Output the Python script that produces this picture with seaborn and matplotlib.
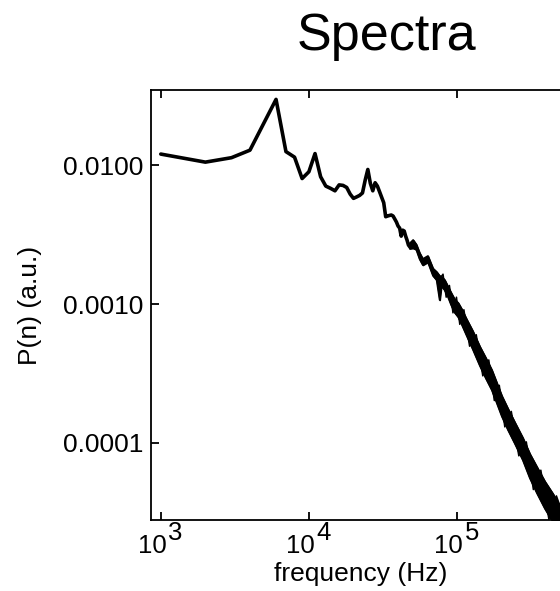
import matplotlib
matplotlib.use("Agg")
import matplotlib.pyplot as plt
import seaborn as sns
import numpy as np
import pandas as pd
from matplotlib.ticker import FixedLocator, FixedFormatter, NullLocator

# ---- data ----
freq_line = [1000, 2000, 3000, 4000, 6000, 7000, 8000, 9000, 10000, 11000,
             12000, 13000, 14000, 15000, 16000, 17000, 18000, 19000, 20000,
             21000, 22000, 23000, 24000, 25000, 26000, 27000, 28000, 29000,
             30000, 31000, 32000, 33000, 34000, 35000, 36000, 37000, 38000,
             39000, 40000, 41000, 42000, 43000, 44000, 45000, 46000, 47000,
             48000]
p_line = [0.0120, 0.0105, 0.0113, 0.0128, 0.0297, 0.0125, 0.0114, 0.0080,
          0.00895, 0.0121, 0.00824, 0.00706, 0.0068, 0.00653, 0.0072,
          0.00714, 0.0069, 0.00618, 0.00576, 0.0059, 0.00605, 0.0063,
          0.0078, 0.0093, 0.00738, 0.00653, 0.00746, 0.00706, 0.00643,
          0.00586, 0.00536, 0.00425, 0.0043, 0.00434, 0.00437, 0.0043,
          0.00409, 0.00389, 0.00364, 0.00352, 0.00308, 0.0034, 0.00335,
          0.00308, 0.00288, 0.00266, 0.00258]

# noisy high-frequency part: upper / lower envelope of the dense band
band_freq = [47900, 50540, 53100, 55920, 58800, 63600, 68800, 72900, 76400,
             78400, 82570, 86500, 91370, 96500, 101900, 107000, 115800,
             127700, 142500, 156400, 171700, 185700, 200600, 220300, 245700,
             278200, 310200, 346100, 391800, 444300, 495500, 790000, 1300000]
band_hi = [0.002725, 0.002887, 0.002680, 0.002328, 0.002108, 0.002215,
           0.001800, 0.001699, 0.001590, 0.001577, 0.001488, 0.001348,
           0.001200, 0.001077, 0.001017, 0.000928, 0.000780, 0.000639,
           0.000494, 0.000409, 0.000335, 0.000270, 0.000218, 0.000177,
           0.0001404, 0.0001086, 0.0000834, 0.0000672, 0.0000528,
           0.0000430, 0.0000352, 0.0000182, 0.00000935]
band_lo = [0.002507, 0.002528, 0.002466, 0.002108, 0.001909, 0.002005,
           0.001603, 0.001488, 0.001069, 0.001358, 0.001260, 0.001142,
           0.000984, 0.000869, 0.000807, 0.000724, 0.000598, 0.000474,
           0.000361, 0.000293, 0.000241, 0.000194, 0.000156, 0.000125,
           0.0000992, 0.0000754, 0.0000560, 0.0000437, 0.0000338,
           0.0000270, 0.0000221, 0.0000114, 0.00000589]

# spikes sticking out of the band edges (jagged texture)
spike_freq = [78400, 80460, 84510, 88900, 93900, 99160, 104400, 111300,
              121600, 134900, 149300, 163900, 178600, 193000, 210200,
              232600, 261400, 293800, 327700, 368200, 417200, 469200,
              495500]
spike_p = [0.001577, 0.00164, 0.00112, 0.00136, 0.000864, 0.00112,
           0.000714, 0.00091, 0.000497, 0.000601, 0.000304, 0.000396,
           0.000202, 0.00026, 0.0001305, 0.0001687, 0.0000808, 0.0001018,
           0.0000462, 0.0000637, 0.0000282, 0.0000416, 0.0000352]

x_ticks = [1e3, 1e4, 1e5]
x_exp = ["3", "4", "5"]
y_ticks = [1e-4, 1e-3, 1e-2]
y_labels = ["0.0001", "0.0010", "0.0100"]

# ---- style ----
sns.set_style("ticks")
plt.rcParams["font.family"] = ["Liberation Sans", "DejaVu Sans"]
plt.rcParams.update({
    "axes.linewidth": 1.3,
    "axes.edgecolor": "black",
    "text.color": "black",
    "axes.labelcolor": "black",
    "xtick.color": "black",
    "ytick.color": "black",
})

fig = plt.figure(figsize=(5.6, 5.91), dpi=100)
ax = fig.add_axes([151 / 560, 71 / 591, 471 / 560, 430 / 591])

df_line = pd.DataFrame({"f": freq_line, "P": p_line})
sns.lineplot(data=df_line, x="f", y="P", ax=ax, color="black",
             linewidth=2.6, estimator=None, sort=False)

ax.fill_between(band_freq, band_lo, band_hi, color="black", linewidth=1.2)
df_hi = pd.DataFrame({"f": band_freq, "P": band_hi})
df_lo = pd.DataFrame({"f": band_freq, "P": band_lo})
sns.lineplot(data=df_hi, x="f", y="P", ax=ax, color="black", linewidth=1.3,
             estimator=None, sort=False)
sns.lineplot(data=df_lo, x="f", y="P", ax=ax, color="black", linewidth=1.3,
             estimator=None, sort=False)
df_sp = pd.DataFrame({"f": spike_freq, "P": spike_p})
sns.lineplot(data=df_sp, x="f", y="P", ax=ax, color="black", linewidth=1.1,
             estimator=None, sort=False)

ax.set_xscale("log")
ax.set_yscale("log")
ax.set_xlim(859, 1.30e6)
ax.set_ylim(2.79e-5, 0.0347)

ax.xaxis.set_major_locator(FixedLocator(x_ticks))
ax.xaxis.set_major_formatter(FixedFormatter(["", "", ""]))
ax.xaxis.set_minor_locator(NullLocator())
ax.yaxis.set_major_locator(FixedLocator(y_ticks))
ax.yaxis.set_major_formatter(FixedFormatter(y_labels))
ax.yaxis.set_minor_locator(NullLocator())

ax.tick_params(axis="both", which="major", direction="in", length=5.8,
               width=1.3, color="black", top=True, right=True,
               labelsize=19, pad=5.5, labelcolor="black")

for t, e in zip(x_ticks, x_exp):
    ax.annotate("10", xy=(t, 0), xycoords=("data", "axes fraction"),
                xytext=(4.3, -23.8), textcoords="offset points",
                ha="right", va="baseline", fontsize=18.5, color="black",
                annotation_clip=False)
    ax.annotate(e, xy=(t, 0), xycoords=("data", "axes fraction"),
                xytext=(5.5, -14.4), textcoords="offset points",
                ha="left", va="baseline", fontsize=18.5, color="black",
                annotation_clip=False)

ax.set_xlabel("frequency (Hz)", fontsize=19, color="black")
ax.set_ylabel("P(n) (a.u.)", fontsize=19, color="black")
ax.xaxis.set_label_coords((360.8 - 151) / 471, -(562 - 520) / 430)
ax.yaxis.set_label_coords((42 - 151) / 471, 0.5)

ax.set_title("Spectra", fontsize=37.5, pad=28.8, color="black")

for s in ax.spines.values():
    s.set_visible(True)
    s.set_linewidth(1.3)
    s.set_color("black")

fig.savefig("out.png", dpi=100)
